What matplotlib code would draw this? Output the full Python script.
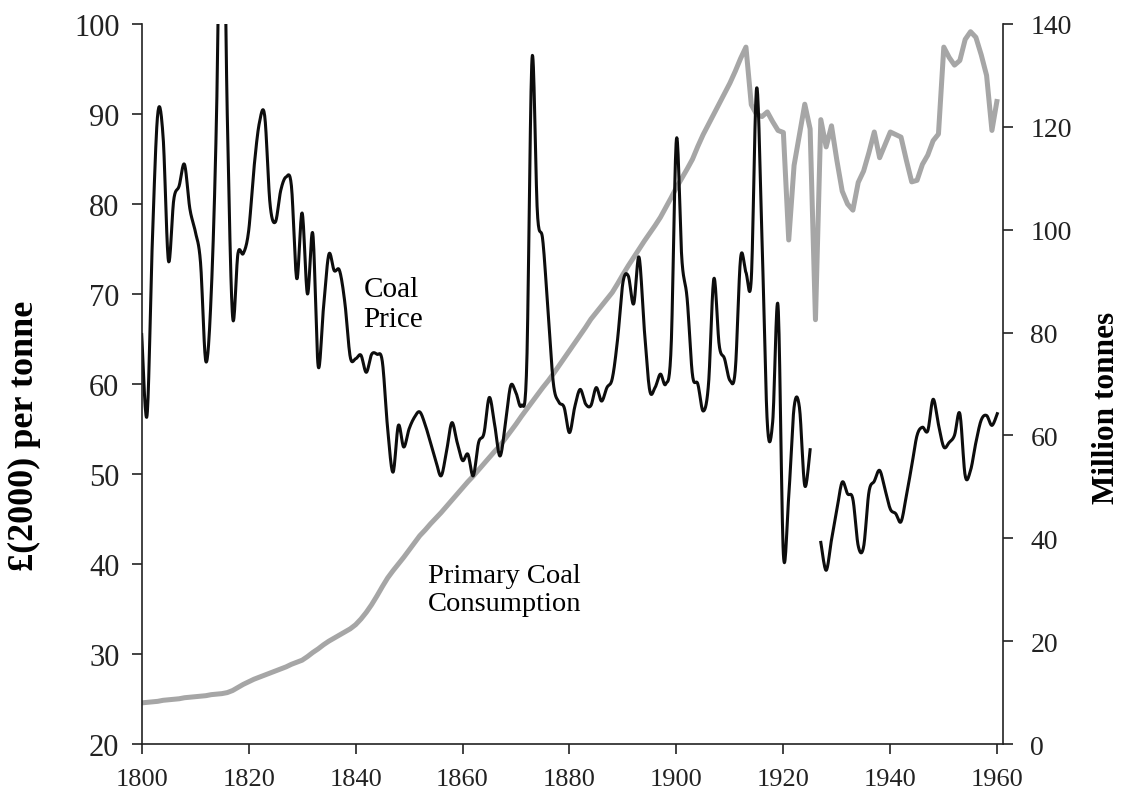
import numpy as np
import matplotlib
matplotlib.use("Agg")
import matplotlib.pyplot as plt

years = np.arange(1800, 1961)

coal_price = [
    65.5, 56.5, 76.0, 90.0, 87.5, 73.7, 80.5, 82.0, 84.4, 79.5,   # 1800-1809
    77.0, 73.5, 62.5, 70.0, 90.0, 125.0, 90.0, 67.5, 74.5, 74.5,  # 1810-1819
    77.0, 84.0, 89.0, 89.8, 80.0, 78.0, 81.5, 83.0, 82.0, 71.7,   # 1820-1829
    79.0, 70.0, 76.7, 62.0, 68.5, 74.4, 72.6, 72.6, 69.0, 63.0,   # 1830-1839
    62.8, 63.2, 61.3, 63.3, 63.3, 62.5, 55.0, 50.2, 55.4, 53.0,   # 1840-1849
    55.0, 56.3, 56.9, 55.5, 53.5, 51.5, 49.8, 52.5, 55.7, 53.5,   # 1850-1859
    51.5, 52.2, 49.8, 53.5, 54.5, 58.5, 55.5, 52.0, 55.5, 59.8,   # 1860-1869
    59.0, 57.6, 62.0, 96.2, 79.0, 76.0, 68.0, 60.0, 58.0, 57.4,   # 1870-1879
    54.6, 57.5, 59.4, 57.8, 57.6, 59.6, 58.1, 59.6, 60.6, 65.0,   # 1880-1889
    71.3, 72.0, 68.9, 74.1, 66.0, 59.3, 59.6, 61.1, 60.0, 64.0,   # 1890-1899
    87.2, 74.0, 69.5, 61.0, 60.0, 57.0, 60.0, 71.7, 64.3, 62.8,   # 1900-1909
    60.4, 61.5, 74.0, 72.4, 71.7, 92.9, 76.1, 55.6, 55.8, 68.7,   # 1910-1919
    41.1, 47.5, 57.4, 57.4, 48.7, 52.7, np.nan, 42.4, 39.3, 42.7, # 1920-1929
    46.0, 49.1, 47.8, 47.2, 42.0, 41.9, 48.0, 49.2, 50.4, 48.3,   # 1930-1939
    46.1, 45.6, 44.7, 47.6, 50.9, 54.3, 55.2, 54.8, 58.3, 55.5,   # 1940-1949
    53.0, 53.5, 54.3, 56.7, 49.8, 50.4, 53.5, 56.0, 56.5, 55.4,   # 1950-1959
    56.7,                                                          # 1960
]

coal_consumption = [
    8.0, 8.1, 8.2, 8.3, 8.5, 8.6, 8.7, 8.8, 9.0, 9.1,             # 1800-1809
    9.2, 9.3, 9.4, 9.6, 9.7, 9.8, 10.0, 10.4, 11.0, 11.6,         # 1810-1819
    12.1, 12.6, 13.0, 13.4, 13.8, 14.2, 14.6, 15.0, 15.5, 15.9,   # 1820-1829
    16.3, 17.0, 17.8, 18.5, 19.3, 20.0, 20.6, 21.2, 21.8, 22.4,   # 1830-1839
    23.2, 24.3, 25.6, 27.1, 28.8, 30.6, 32.3, 33.7, 35.0, 36.3,   # 1840-1849
    37.7, 39.1, 40.5, 41.6, 42.8, 43.9, 45.0, 46.2, 47.4, 48.6,   # 1850-1859
    49.8, 51.0, 52.1, 53.3, 54.5, 55.7, 56.9, 58.0, 59.4, 60.8,   # 1860-1869
    62.2, 63.7, 65.1, 66.5, 67.9, 69.3, 70.6, 72.0, 73.5, 75.0,   # 1870-1879
    76.5, 78.0, 79.5, 81.0, 82.6, 83.9, 85.2, 86.5, 87.8, 89.5,   # 1880-1889
    91.3, 93.0, 94.6, 96.2, 97.8, 99.3, 100.8, 102.4, 104.3, 106.2,  # 1890-1899
    108.2, 110.0, 111.8, 113.7, 116.2, 118.5, 120.5, 122.5, 124.5, 126.5,  # 1900-1909
    128.5, 130.8, 133.3, 135.5, 124.3, 122.4, 122.0, 122.9, 121.0, 119.3,  # 1910-1919
    118.9, 98.0, 112.5, 118.5, 124.4, 119.6, 82.5, 121.4, 116.1, 120.2,    # 1920-1929
    113.5, 107.5, 105.0, 103.8, 109.2, 111.4, 115.0, 119.0, 114.0, 116.5,  # 1930-1939
    119.0, 118.5, 118.0, 113.5, 109.3, 109.6, 112.7, 114.5, 117.3, 118.6,  # 1940-1949
    135.5, 133.5, 132.0, 132.9, 137.0, 138.5, 137.4, 134.0, 130.0, 119.3,  # 1950-1959
    125.4,                                                                  # 1960
]

left_ticks = [20, 30, 40, 50, 60, 70, 80, 90, 100]
right_ticks = [0, 20, 40, 60, 80, 100, 120, 140]
x_ticks = [1800, 1820, 1840, 1860, 1880, 1900, 1920, 1940, 1960]


def smooth_segments(x, y, n=16):
    """Excel-like smoothed line (Catmull-Rom) drawn per contiguous segment."""
    x = np.asarray(x, float)
    y = np.asarray(y, float)
    out_x, out_y = [], []
    ok = ~np.isnan(y)
    idx = np.where(ok)[0]
    if len(idx) == 0:
        return np.array([]), np.array([])
    breaks = np.where(np.diff(idx) > 1)[0]
    starts = np.concatenate([[0], breaks + 1])
    ends = np.concatenate([breaks + 1, [len(idx)]])
    for s, e in zip(starts, ends):
        seg = idx[s:e]
        px, py = x[seg], y[seg]
        m = len(px)
        if m < 3:
            out_x += list(px) + [np.nan]
            out_y += list(py) + [np.nan]
            continue
        P = np.column_stack([px, py])
        P = np.vstack([P[0], P, P[-1]])
        t = np.linspace(0, 1, n, endpoint=False)
        for i in range(1, m):
            p0, p1, p2, p3 = P[i - 1], P[i], P[i + 1], P[i + 2]
            b1 = p1 + (p2 - p0) / 6.0
            b2 = p2 - (p3 - p1) / 6.0
            tt = t[:, None]
            pts = ((1 - tt) ** 3) * p1 + 3 * ((1 - tt) ** 2) * tt * b1 \
                + 3 * (1 - tt) * tt ** 2 * b2 + tt ** 3 * p2
            out_x += list(pts[:, 0])
            out_y += list(pts[:, 1])
        out_x += [px[-1], np.nan]
        out_y += [py[-1], np.nan]
    return np.array(out_x), np.array(out_y)


plt.rcParams['font.family'] = ['Liberation Serif', 'DejaVu Serif']

fig = plt.figure(figsize=(11.21, 8.03), dpi=100)
ax = fig.add_axes([0.1264, 0.0722, 0.768, 0.8967])
ax2 = ax.twinx()

# consumption on the right axis (behind)
ax2.plot(years, coal_consumption, color='#a6a6a6', lw=3.6,
         solid_joinstyle='round', solid_capstyle='butt')
ax2.set_ylim(0, 140)
ax2.set_yticks(right_ticks)

# price on the left axis (in front)
sx, sy = smooth_segments(years, coal_price)
ax.plot(sx, sy, color='#0d0d0d', lw=2.2, solid_joinstyle='round')
ax.set_ylim(20, 100)
ax.set_yticks(left_ticks)
ax.set_xlim(1800, 1961)
ax.set_xticks(x_ticks)

ax.set_zorder(ax2.get_zorder() + 1)
ax.patch.set_visible(False)

for a in (ax, ax2):
    a.spines['top'].set_visible(False)
    for sp in a.spines.values():
        sp.set_linewidth(1.2)
        sp.set_color('#222222')

ax.spines['right'].set_visible(False)
ax2.spines['left'].set_visible(False)
ax2.spines['bottom'].set_visible(False)

ax.tick_params(axis='y', direction='out', length=7, width=1.2, pad=9,
               labelsize=22, colors='#222222')
ax.tick_params(axis='x', direction='out', length=7, width=1.2, pad=10,
               labelsize=19, colors='#222222')
ax2.tick_params(axis='y', direction='out', length=7, width=1.2, pad=13,
                labelsize=20, colors='#222222')

ax.set_ylabel('£(2000) per tonne', fontsize=26, fontweight='bold')
ax.yaxis.set_label_coords(-0.1167, 0.43)
ax2.set_ylabel('Million tonnes', fontsize=22.5, fontweight='bold')
ax2.yaxis.set_label_coords(1.1035, 0.468)

ax.text(1841.5, 68.9, 'Coal\nPrice', fontsize=21, ha='left', va='center',
        linespacing=1.2)
ax.text(1853.5, 37.2, 'Primary Coal\nConsumption', fontsize=20.5, ha='left',
        va='center', linespacing=1.15)

fig.savefig('out.png', dpi=100)
